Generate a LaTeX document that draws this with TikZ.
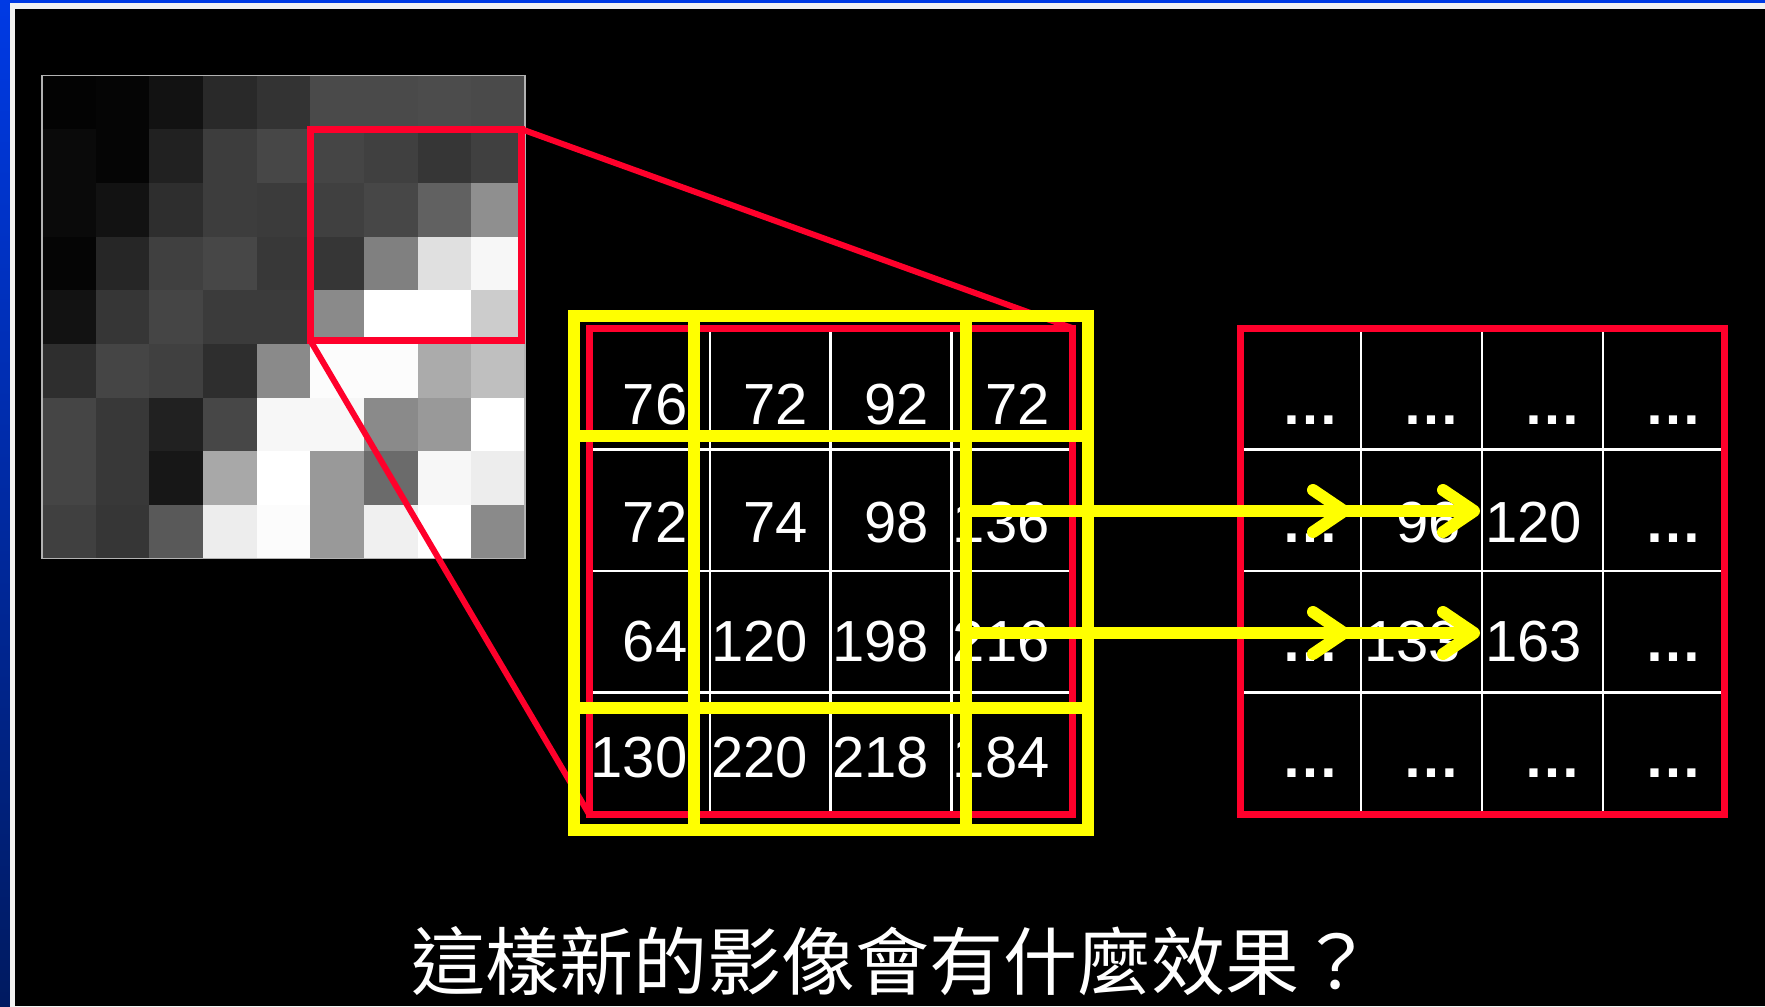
\documentclass[tikz,border=0pt]{standalone}
\usepackage{fontspec}
\setmainfont{Liberation Sans}
\newfontfamily\cjk{Noto Sans CJK TC}
\usetikzlibrary{arrows.meta}
\definecolor{slidered}{RGB}{255,0,43}
\definecolor{slideyellow}{RGB}{255,255,0}
\definecolor{slidetop}{RGB}{0,58,228}
\definecolor{slidebottom}{RGB}{0,26,96}
\newcommand\omitted{\textbf{…}}
\tikzset{
  redbox/.style={draw=slidered, line width=7pt, outer sep=0pt, inner sep=0pt},
  redline/.style={slidered, line width=6pt},
  cellline/.style={white, line width=2.5pt},
  num/.style={white, anchor=base east, inner sep=0pt, font=\fontsize{58}{66}\selectfont},
  window/.style={slideyellow, line width=11.5pt},
  shiftarrow/.style={slideyellow, line width=12pt, -{Straight Barb[length=31pt,width=42pt,round]}},
}
\begin{document}
\begin{tikzpicture}[x=1pt,y=-1pt]
  \useasboundingbox (0,0) rectangle (1765,1007);
  \shade[top color=slidetop, bottom color=slidebottom] (0,0) rectangle (1765,1007);
  \fill[white!90!gray] (10,3) rectangle (1765,1007);
  \fill[black] (14.5,8.5) rectangle (1765,1005.5);
  \foreach \row [count=\r from 0] in {
      {1,2,7,16,20,29,29,30,29},
      {4,2,13,24,28,27,25,21,25},
      {4,7,18,24,23,25,28,38,56},
      {2,15,25,28,22,21,50,88,97},
      {7,21,27,23,23,54,100,100,80},
      {18,27,25,18,54,99,99,67,75},
      {27,22,13,28,97,97,54,60,100},
      {27,22,9,66,100,60,42,97,93},
      {25,21,35,93,99,60,94,100,54}}
    \foreach \g [count=\c from 0] in \row
      \fill[white!\g!black] (42+53.67*\c,75.5+53.67*\r) rectangle ++(54.2,54.2);
  \draw[gray!60, line width=1.5pt] (42,75.5) rectangle (525,558.5);
  \foreach \x in {709.75,830.5,951.25}
    \draw[cellline] (\x,328) -- (\x,814);
  \foreach \y in {449.5,571,692.5}
    \draw[cellline] (589,\y) -- (1072,\y);
  \foreach \x in {1361,1482,1603}
    \draw[cellline] (\x,328) -- (\x,814);
  \foreach \y in {449.5,571,692.5}
    \draw[cellline] (1240,\y) -- (1724,\y);
  \foreach \v [count=\c from 0] in {76,72,92,72}
    \node[num] (a0\c) at (687.5+120.75*\c,424) {\v};
  \foreach \v [count=\c from 0] in {72,74,98,136}
    \node[num] (a1\c) at (687.5+120.75*\c,542) {\v};
  \foreach \v [count=\c from 0] in {64,120,198,216}
    \node[num] (a2\c) at (687.5+120.75*\c,661) {\v};
  \foreach \v [count=\c from 0] in {130,220,218,184}
    \node[num] (a3\c) at (687.5+120.75*\c,777) {\v};
  \foreach \v [count=\c from 0] in {\omitted,\omitted,\omitted,\omitted}
    \node[num] (b0\c) at (1340+121*\c,424) {\v};
  \foreach \v [count=\c from 0] in {\omitted,96,120,\omitted}
    \node[num] (b1\c) at (1340+121*\c,542) {\v};
  \foreach \v [count=\c from 0] in {\omitted,133,163,\omitted}
    \node[num] (b2\c) at (1340+121*\c,661) {\v};
  \foreach \v [count=\c from 0] in {\omitted,\omitted,\omitted,\omitted}
    \node[num] (b3\c) at (1340+121*\c,777) {\v};
  \node[redbox, minimum width=211pt, minimum height=211pt] (crop) at (415.5,234.5) {};
  \node[redbox, minimum width=483pt, minimum height=486pt] (mid) at (830.5,571) {};
  \node[redbox, minimum width=484pt, minimum height=486pt] (out) at (1482,571) {};
  \draw[redline] (crop.north east) -- (mid.north east);
  \draw[redline] (crop.south west) -- (mid.south west);
  \draw[window] (574,316) rectangle (1088,830);
  \draw[window] (694,316) -- (694,830) (966,316) -- (966,830);
  \draw[window] (574,436) -- (1088,436) (574,708) -- (1088,708);
  \coordinate (s1) at (966,511);
  \coordinate (s2) at (966,633);
  \coordinate (h1) at (1350,511);
  \coordinate (h2) at (1350,633);
  \coordinate (t1) at (1480,511);
  \coordinate (t2) at (1480,633);
  \draw[shiftarrow] (s1) -- (h1);
  \draw[shiftarrow] (s1) -- (t1);
  \draw[shiftarrow] (s2) -- (h2);
  \draw[shiftarrow] (s2) -- (t2);
  \node[white, font=\cjk\fontsize{74}{80}\selectfont] (title) at (892,961) {這樣新的影像會有什麼效果？};
\end{tikzpicture}
\end{document}
